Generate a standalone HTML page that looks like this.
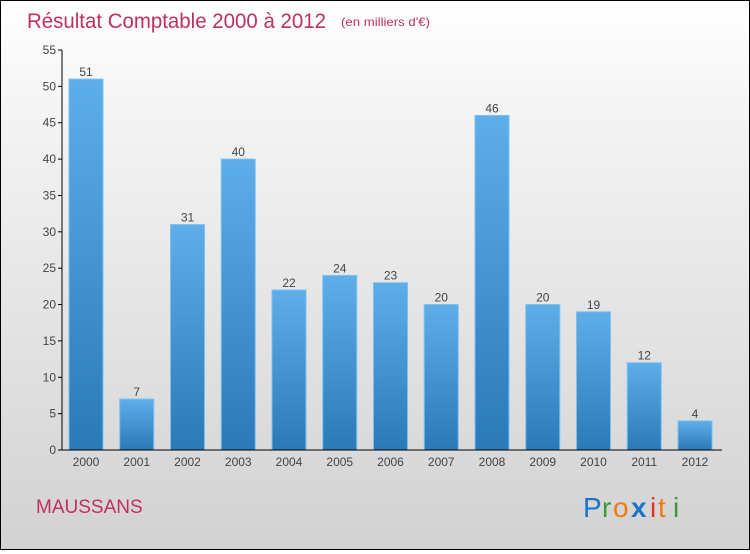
<!DOCTYPE html>
<html><head><meta charset="utf-8"><style>
html,body{margin:0;padding:0}
body{width:750px;height:550px;overflow:hidden;font-family:"Liberation Sans",sans-serif}
#wrap{position:relative;width:748px;height:548px;border:1px solid #000;background:linear-gradient(#ffffff,#f4f4f4 20%,#d2d2d2)}
</style></head><body>
<div id="wrap">
<svg width="748" height="548" id="chart">
<defs><linearGradient id="bg" x1="0" y1="0" x2="0" y2="1"><stop offset="0" stop-color="#5eaeea"/><stop offset="1" stop-color="#2b7ab8"/></linearGradient></defs>
<text x="26" y="27" font-size="21" fill="#c0305e" textLength="299" lengthAdjust="spacingAndGlyphs">Résultat Comptable 2000 à 2012</text>
<text x="340" y="25" font-size="12" fill="#c0305e" textLength="89" lengthAdjust="spacingAndGlyphs">(en milliers d'€)</text>
<text x="35" y="512" font-size="19" fill="#c0305e">MAUSSANS</text>
<g font-size="28" font-family="'Liberation Sans',sans-serif">
<text x="582" y="516" fill="#1a74c8">P</text><text x="601" y="516" fill="#3a9a3a">r</text><text x="612" y="516" fill="#f07a10">o</text><text x="630" y="516" fill="#1a74c8" font-weight="bold">x</text><text x="649" y="516" fill="#e03020">i</text><text x="657" y="516" fill="#f07a10">t</text><text x="672" y="516" fill="#3a9a3a">i</text>
</g>
<g id="plot"></g>
</svg>
</div>
<script>
const categories=["2000","2001","2002","2003","2004","2005","2006","2007","2008","2009","2010","2011","2012"];
const values=[51,7,31,40,22,24,23,20,46,20,19,12,4];
const yTicks=[0,5,10,15,20,25,30,35,40,45,50,55];
const NS="http://www.w3.org/2000/svg";
const g=document.getElementById('plot');
const y=v=>449-v*400/55;
const x=i=>85+i*50.75;
function mk(t,a){const e=document.createElementNS(NS,t);for(const k in a)e.setAttribute(k,a[k]);g.appendChild(e);return e;}
yTicks.forEach(t=>{
 const l=mk('line',{x1:57,x2:61,y1:y(t),y2:y(t),stroke:'#000'});
 
 
 const tx=mk('text',{x:55,y:y(t)+4,'text-anchor':'end','font-size':12,fill:'#444'});
 tx.textContent=t;
 
 
});
values.forEach((v,i)=>{
 const r=mk('rect',{x:x(i)-17,y:y(v),width:34,height:y(0)-y(v),fill:'url(#bg)',stroke:'#7cc0f0','stroke-width':1});
 
 
 const vl=mk('text',{x:x(i),y:y(v)-3,'text-anchor':'middle','font-size':12,fill:'#444'});
 vl.textContent=v;
 
 
 const cl=mk('text',{x:x(i),y:465,'text-anchor':'middle','font-size':12,fill:'#444'});
 cl.textContent=categories[i];
 
 
});
const ya=mk('line',{x1:61,x2:61,y1:y(55),y2:y(0),stroke:'#000'});


const xa=mk('line',{x1:61,x2:721,y1:y(0),y2:y(0),stroke:'#000'});


</script>
</body></html>
